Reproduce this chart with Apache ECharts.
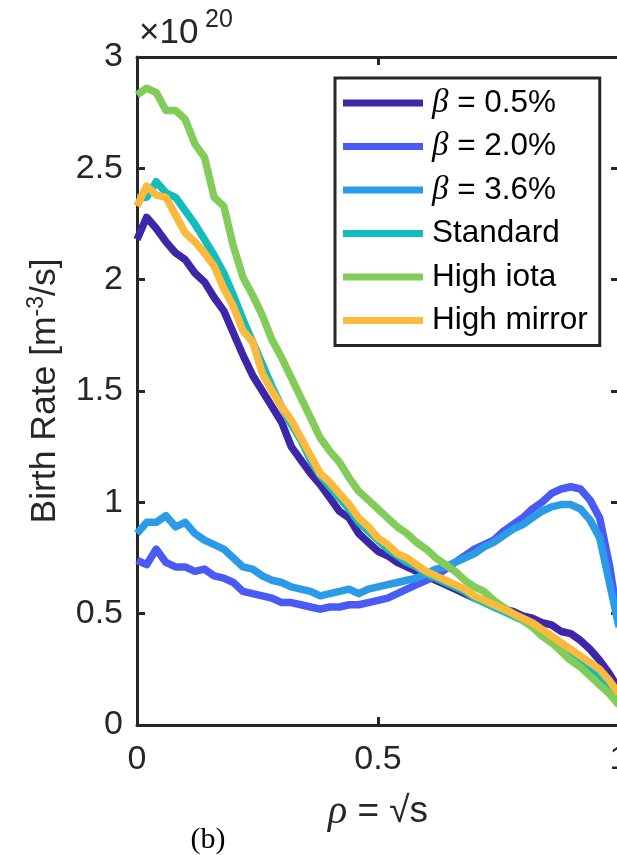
<!DOCTYPE html>
<html>
<head>
<meta charset="utf-8">
<script src="https://cdn.jsdelivr.net/npm/echarts@6/dist/echarts.min.js"></script>
<style>
html,body{margin:0;padding:0;background:#fff;}
#chart{width:617px;height:855px;}
</style>
</head>
<body>
<div id="chart"></div>
<script>
// rho grid
var rho = [0.00,0.02,0.04,0.06,0.08,0.10,0.12,0.14,0.16,0.18,0.20,0.22,0.24,0.26,0.28,0.30,0.32,0.34,0.36,0.38,0.40,0.42,0.44,0.46,0.48,0.50,0.52,0.54,0.56,0.58,0.60,0.62,0.64,0.66,0.68,0.70,0.72,0.74,0.76,0.78,0.80,0.82,0.84,0.86,0.88,0.90,0.92,0.94,0.96,0.98,1.00];

// Birth rate, units of 1e20 m^-3/s
var beta05 = [2.18,2.28,2.23,2.17,2.12,2.09,2.03,1.99,1.92,1.86,1.76,1.66,1.57,1.50,1.43,1.36,1.25,1.19,1.13,1.08,1.02,0.96,0.93,0.86,0.82,0.78,0.76,0.73,0.71,0.69,0.67,0.65,0.63,0.61,0.59,0.57,0.56,0.54,0.52,0.51,0.49,0.48,0.46,0.45,0.42,0.41,0.38,0.34,0.29,0.23,0.16];
var beta20 = [0.74,0.72,0.79,0.73,0.71,0.71,0.69,0.70,0.67,0.66,0.64,0.60,0.59,0.58,0.57,0.55,0.55,0.54,0.53,0.52,0.53,0.53,0.54,0.54,0.55,0.56,0.57,0.59,0.61,0.63,0.65,0.67,0.70,0.73,0.76,0.79,0.81,0.83,0.87,0.90,0.93,0.97,1.00,1.04,1.06,1.07,1.06,1.01,0.93,0.72,0.45];
var beta36 = [0.86,0.91,0.91,0.94,0.89,0.91,0.86,0.83,0.81,0.79,0.75,0.71,0.70,0.67,0.65,0.64,0.62,0.61,0.60,0.58,0.59,0.60,0.61,0.59,0.61,0.62,0.63,0.64,0.65,0.66,0.68,0.70,0.71,0.73,0.75,0.77,0.80,0.82,0.85,0.88,0.90,0.93,0.96,0.98,0.99,0.99,0.97,0.92,0.84,0.64,0.44];
var standard = [2.37,2.37,2.44,2.39,2.37,2.31,2.25,2.18,2.11,2.03,1.93,1.82,1.72,1.62,1.52,1.43,1.35,1.28,1.19,1.12,1.07,1.02,0.97,0.91,0.87,0.83,0.79,0.76,0.73,0.71,0.68,0.66,0.64,0.62,0.60,0.57,0.55,0.53,0.51,0.49,0.47,0.45,0.42,0.39,0.36,0.33,0.30,0.26,0.22,0.17,0.12];
var highIota = [2.83,2.86,2.84,2.76,2.76,2.72,2.61,2.55,2.37,2.33,2.15,2.01,1.93,1.84,1.73,1.65,1.56,1.47,1.38,1.29,1.23,1.18,1.11,1.05,1.01,0.97,0.93,0.89,0.86,0.82,0.79,0.75,0.72,0.69,0.65,0.62,0.60,0.56,0.53,0.50,0.47,0.44,0.40,0.37,0.33,0.29,0.26,0.22,0.18,0.14,0.09];
var highMirror = [2.33,2.42,2.38,2.37,2.29,2.21,2.17,2.12,2.06,1.96,1.88,1.77,1.72,1.58,1.50,1.43,1.37,1.29,1.21,1.13,1.09,1.04,0.99,0.93,0.89,0.84,0.81,0.77,0.75,0.72,0.69,0.67,0.65,0.63,0.61,0.58,0.56,0.54,0.52,0.50,0.48,0.46,0.43,0.40,0.37,0.34,0.31,0.28,0.25,0.20,0.14];

var seriesNames = ['β05','β20','β36','Standard','High iota','High mirror'];
var legendLabels = ['{b|β} = 0.5%','{b|β} = 2.0%','{b|β} = 3.6%','Standard','High iota','High mirror'];
var seriesColors = ['#3e26a8','#4a5af5','#2b9be8','#13bdbb','#82cc59','#fbb93d'];
var xTickLabels = ['0','0.5','1'];
var yTickLabels = ['0','0.5','1','1.5','2','2.5','3'];

var allValues = [beta05,beta20,beta36,standard,highIota,highMirror];

function pairs(ys){ return ys.map(function(v,i){ return [rho[i], v]; }); }

var AX = '#262626';
var FONT = '"Liberation Sans", Arial, Helvetica, sans-serif';
var SERIF = '"Liberation Serif", "DejaVu Serif", serif';

var series = allValues.map(function(ys, k){
  return {
    name: seriesNames[k],
    type: 'line',
    data: pairs(ys),
    showSymbol: false,
    symbol: 'none',
    smooth: false,
    clip: true,
    lineStyle: {width: 7.5, color: seriesColors[k], join: 'round', cap: 'butt'},
    itemStyle: {color: seriesColors[k]},
    z: 2 + k
  };
});

var chart = echarts.init(document.getElementById('chart'), null, {renderer: 'canvas'});

chart.setOption({
  animation: false,
  backgroundColor: '#ffffff',
  grid: {left: 137, top: 57, width: 482, height: 668, containLabel: false, outerBoundsMode: 'none'},
  xAxis: [{
    type: 'value', min: 0, max: 1, interval: 0.5, position: 'bottom',
    axisLine: {show: true, onZero: false, lineStyle: {color: AX, width: 3}},
    axisTick: {show: true, inside: true, length: 8, lineStyle: {color: AX, width: 3}},
    splitLine: {show: false},
    axisLabel: {show: true, margin: 18, color: '#262626', fontFamily: FONT, fontSize: 34,
      hideOverlap: false,
      formatter: function(v){ return xTickLabels[Math.round(v / 0.5)]; }}
  },{
    type: 'value', min: 0, max: 1, interval: 0.5, position: 'top',
    axisLine: {show: true, onZero: false, lineStyle: {color: AX, width: 3}},
    axisTick: {show: true, inside: true, length: 8, lineStyle: {color: AX, width: 3}},
    splitLine: {show: false}, axisLabel: {show: false}
  }],
  yAxis: [{
    type: 'value', min: 0, max: 3, interval: 0.5, position: 'left',
    axisLine: {show: true, onZero: false, lineStyle: {color: AX, width: 3}},
    axisTick: {show: true, inside: true, length: 8, lineStyle: {color: AX, width: 3}},
    splitLine: {show: false},
    axisLabel: {show: true, margin: 14, color: '#262626', fontFamily: FONT, fontSize: 34,
      formatter: function(v){ return yTickLabels[Math.round(v / 0.5)]; }}
  },{
    type: 'value', min: 0, max: 3, interval: 0.5, position: 'right',
    axisLine: {show: true, onZero: false, lineStyle: {color: AX, width: 3}},
    axisTick: {show: true, inside: true, length: 8, lineStyle: {color: AX, width: 3}},
    splitLine: {show: false}, axisLabel: {show: false}
  }],
  legend: {
    show: true,
    orient: 'vertical',
    left: 335, top: 78,
    padding: [8, 12, 8, 8],
    itemGap: 9.5,
    itemWidth: 80, itemHeight: 7,
    icon: 'rect',
    borderColor: AX, borderWidth: 3, backgroundColor: '#ffffff',
    data: seriesNames,
    formatter: function(name){ return legendLabels[seriesNames.indexOf(name)]; },
    textStyle: {
      color: '#000', fontFamily: FONT, fontSize: 31.5, lineHeight: 34, padding: [0,0,0,4],
      rich: {
        b: {fontFamily: SERIF, fontStyle: 'italic', fontSize: 33, color: '#000'}
      }
    },
    selectedMode: false,
    z: 20
  },
  graphic: [
    {type: 'text', left: 139, top: 16, z: 30,
     style: {text: '×10', font: '35px ' + FONT, fill: '#262626'}},
    {type: 'text', left: 205, top: 8, z: 30,
     style: {text: '20', font: '25px ' + FONT, fill: '#262626'}},
    {type: 'text', x: 45, y: 391, rotation: Math.PI / 2, z: 30,
     style: {
       text: 'Birth Rate [m{s|-3}/s]',
       align: 'center', verticalAlign: 'middle',
       font: '35.5px ' + FONT, fill: '#262626',
       rich: {s: {fontSize: 23, fontFamily: FONT, verticalAlign: 'top', padding: [0,0,16,0], fill: '#262626'}}
     }},
    {type: 'text', x: 378, y: 812, z: 30,
     style: {
       text: '{r|ρ} = √s',
       align: 'center', verticalAlign: 'middle',
       font: '37px ' + FONT, fill: '#262626',
       rich: {r: {fontFamily: SERIF, fontStyle: 'italic', fontSize: 40, fill: '#262626'}}
     }},
    {type: 'text', x: 208, y: 840, z: 30,
     style: {text: '(b)', align: 'center', verticalAlign: 'middle', font: '30px ' + SERIF, fill: '#000'}}
  ],
  series: series
});
</script>
</body>
</html>
